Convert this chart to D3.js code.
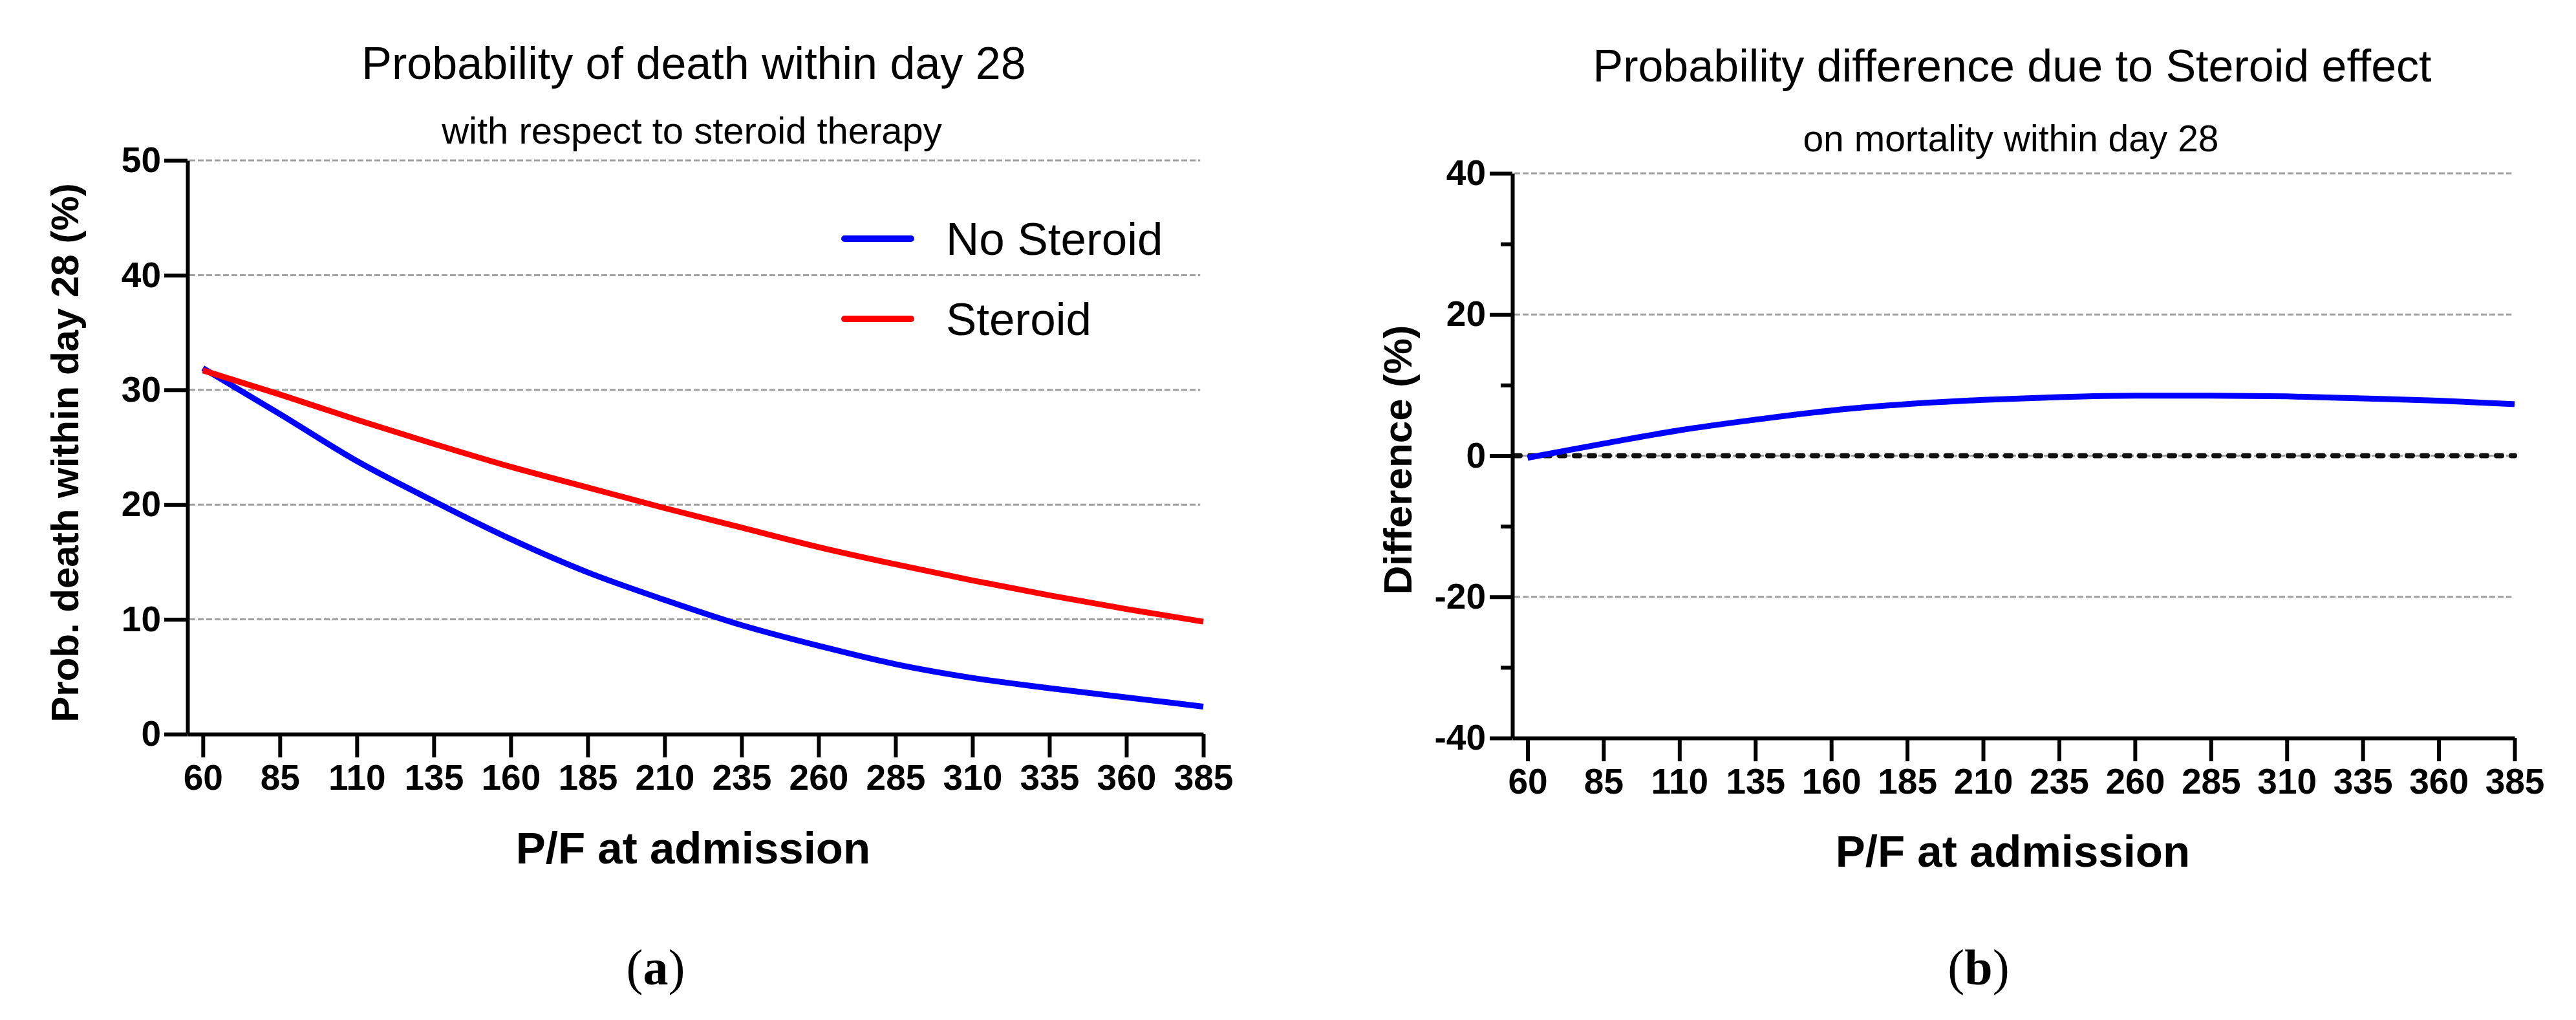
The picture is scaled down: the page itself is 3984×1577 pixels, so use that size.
<!DOCTYPE html>
<html lang="en">
<head>
<meta charset="UTF-8" />
<title>Steroid effect on 28-day mortality</title>
<script src="https://cdn.jsdelivr.net/npm/d3@7"></script>
<style>
  body { margin: 0; background: #fff; }
  text { font-family: "Liberation Sans", Arial, sans-serif; fill: #000; }
  .axis path, .axis line { stroke: #000; stroke-width: 6px; }
  .axis text { font-size: 55px; font-weight: bold; }
  .grid { stroke: #a0a0a0; stroke-width: 3px; stroke-dasharray: 9 4; }
</style>
</head>
<body>
<script>
// P/F at admission (x) and the model curves
const pfValues   = [60, 85, 110, 135, 160, 185, 210, 235, 260, 285, 310, 335, 360, 385];
const noSteroid  = [31.9, 27.9, 23.8, 20.3, 17.0, 14.1, 11.7, 9.5, 7.7, 6.1, 4.9, 4.0, 3.2, 2.4];
const steroid    = [31.7, 29.6, 27.4, 25.3, 23.3, 21.5, 19.7, 18.0, 16.3, 14.8, 13.4, 12.1, 10.9, 9.8];
const difference = [-0.3, 1.7, 3.6, 5.1, 6.4, 7.3, 7.9, 8.3, 8.5, 8.5, 8.4, 8.1, 7.8, 7.3];

const leftYTicks  = [0, 10, 20, 30, 40, 50];
const rightYTicks = [-40, -20, 0, 20, 40];
const rightYMinor = [-30, -10, 10, 30];

const seriesNames  = ["No Steroid", "Steroid"];
const seriesColors = ["#0000ff", "#ff0000"];

const width = 3984, height = 1577;

const svg = d3.select("body").append("svg")
    .attr("width", width)
    .attr("height", height);

svg.append("rect").attr("width", width).attr("height", height).attr("fill", "#fff");

// plain hyphen for negatives, like the original
const fmt = d => String(d);

const line = (x, y) => d3.line()
    .x((d, i) => x(pfValues[i]))
    .y(d => y(d))
    .curve(d3.curveMonotoneX);

function drawXAxis(g, x, y0) {
  g.append("g")
      .attr("class", "axis")
      .attr("transform", `translate(0,${y0})`)
      .call(d3.axisBottom(x).tickValues(pfValues).tickFormat(fmt)
        .tickSizeInner(36).tickSizeOuter(0).tickPadding(11));
}

// ---------- panel (a) ----------
const xa = d3.scaleLinear().domain([55, 385]).range([290, 1861]);
const ya = d3.scaleLinear().domain([0, 50]).range([1135, 248]);

const ga = svg.append("g");

ga.selectAll(".grid")
  .data(leftYTicks.filter(d => d > 0))
  .join("line")
    .attr("class", "grid")
    .attr("x1", xa(55) + 3).attr("x2", xa(384))
    .attr("y1", d => ya(d)).attr("y2", d => ya(d));

drawXAxis(ga, xa, ya(0));

ga.append("g")
    .attr("class", "axis")
    .attr("transform", `translate(${xa(55)},0)`)
    .call(d3.axisLeft(ya).tickValues(leftYTicks).tickFormat(fmt)
      .tickSizeInner(36).tickSizeOuter(0).tickPadding(5));

[noSteroid, steroid].forEach((s, i) => {
  ga.append("path")
      .datum(s)
      .attr("fill", "none")
      .attr("stroke", seriesColors[i])
      .attr("stroke-width", 9)
      .attr("d", line(xa, ya));
});

// legend
const legend = ga.selectAll(".legend")
  .data(seriesNames)
  .join("g")
    .attr("transform", (d, i) => `translate(1306,${369 + i * 124})`);
legend.append("line")
    .attr("x1", 0).attr("x2", 103)
    .attr("stroke", (d, i) => seriesColors[i])
    .attr("stroke-width", 10)
    .attr("stroke-linecap", "round");
legend.append("text")
    .attr("x", 157).attr("y", 25)
    .style("font-size", "71px")
    .text(d => d);

ga.append("text").attr("x", 1073).attr("y", 122).attr("text-anchor", "middle")
    .style("font-size", "70px").text("Probability of death within day 28");
ga.append("text").attr("x", 1070).attr("y", 222).attr("text-anchor", "middle")
    .style("font-size", "58px").text("with respect to steroid therapy");
ga.append("text").attr("x", 1072).attr("y", 1335).attr("text-anchor", "middle")
    .style("font-size", "69px").style("font-weight", "bold").text("P/F at admission");
ga.append("text").attr("transform", "translate(121,700) rotate(-90)").attr("text-anchor", "middle")
    .style("font-size", "60px").style("font-weight", "bold").text("Prob. death within day 28 (%)");

// ---------- panel (b) ----------
const xb = d3.scaleLinear().domain([55, 385]).range([2339, 3889]);
const yb = d3.scaleLinear().domain([-40, 40]).range([1141, 268]);

const gb = svg.append("g");

gb.selectAll(".grid")
  .data(rightYTicks.filter(d => d > -40))
  .join("line")
    .attr("class", "grid")
    .attr("x1", xb(55) + 3).attr("x2", xb(384))
    .attr("y1", d => yb(d)).attr("y2", d => yb(d));

// zero reference line
gb.append("line")
    .attr("x1", xb(55) + 4).attr("x2", xb(385))
    .attr("y1", yb(0)).attr("y2", yb(0))
    .attr("stroke", "#111")
    .attr("stroke-width", 8)
    .attr("stroke-linecap", "round")
    .attr("stroke-dasharray", "8 15");

drawXAxis(gb, xb, yb(-40));

gb.append("g")
    .attr("class", "axis")
    .attr("transform", `translate(${xb(55)},0)`)
    .call(d3.axisLeft(yb).tickValues(rightYTicks).tickFormat(fmt)
      .tickSizeInner(35).tickSizeOuter(0).tickPadding(6));

gb.append("g")
    .attr("class", "axis")
    .attr("transform", `translate(${xb(55)},0)`)
    .call(d3.axisLeft(yb).tickValues(rightYMinor).tickSizeInner(18).tickSizeOuter(0).tickFormat(""))
    .call(g => g.select(".domain").remove());

gb.append("path")
    .datum(difference)
    .attr("fill", "none")
    .attr("stroke", "#0000ff")
    .attr("stroke-width", 9)
    .attr("d", line(xb, yb));

gb.append("text").attr("x", 3112).attr("y", 126).attr("text-anchor", "middle")
    .style("font-size", "70px").text("Probability difference due to Steroid effect");
gb.append("text").attr("x", 3110).attr("y", 234).attr("text-anchor", "middle")
    .style("font-size", "57px").text("on mortality within day 28");
gb.append("text").attr("x", 3113).attr("y", 1340).attr("text-anchor", "middle")
    .style("font-size", "69px").style("font-weight", "bold").text("P/F at admission");
gb.append("text").attr("transform", "translate(2183,711) rotate(-90)").attr("text-anchor", "middle")
    .style("font-size", "62px").style("font-weight", "bold").text("Difference (%)");

// panel captions
[["a", 1014], ["b", 3060]].forEach(([c, cx]) => {
  const t = svg.append("text")
      .attr("x", cx).attr("y", 1522)
      .attr("text-anchor", "middle")
      .style("font-family", "'Liberation Serif', 'Times New Roman', serif")
      .style("font-size", "78px");
  t.append("tspan").text("(");
  t.append("tspan").style("font-weight", "bold").text(c);
  t.append("tspan").text(")");
});
</script>
</body>
</html>
